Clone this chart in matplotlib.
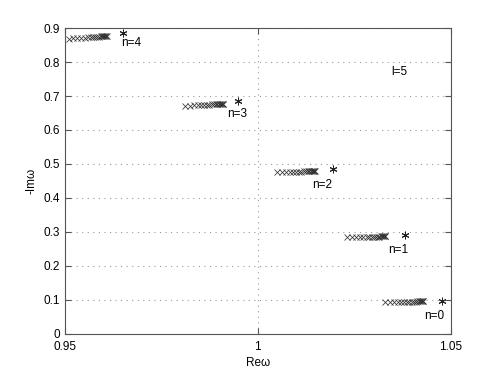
import matplotlib
matplotlib.use("Agg")
import matplotlib.pyplot as plt

plt.rcParams['font.family'] = ['Liberation Sans', 'DejaVu Sans']

# crosses (numerical frequencies) per overtone n
re_n0 = [1.0330, 1.0342, 1.0353, 1.0363, 1.0372, 1.0380, 1.0387, 1.0393, 1.0399, 1.0404,
         1.0409, 1.0413, 1.0417, 1.0420, 1.0423, 1.0425, 1.0427, 1.0429]
im_n0 = [0.0935, 0.0937, 0.0939, 0.0941, 0.0942, 0.0944, 0.0945, 0.0946, 0.0947, 0.0948,
         0.0949, 0.0950, 0.0951, 0.0951, 0.0952, 0.0952, 0.0953, 0.0953]
re_n1 = [1.0232, 1.0244, 1.0255, 1.0265, 1.0274, 1.0282, 1.0289, 1.0295, 1.0301, 1.0306,
         1.0311, 1.0315, 1.0319, 1.0322, 1.0325, 1.0327, 1.0329, 1.0331]
im_n1 = [0.2840, 0.2843, 0.2846, 0.2849, 0.2851, 0.2853, 0.2855, 0.2857, 0.2859, 0.2860,
         0.2862, 0.2863, 0.2864, 0.2865, 0.2866, 0.2867, 0.2868, 0.2868]
re_n2 = [1.0050, 1.0062, 1.0073, 1.0083, 1.0092, 1.0100, 1.0107, 1.0113, 1.0119, 1.0124,
         1.0129, 1.0133, 1.0137, 1.0140, 1.0143, 1.0145, 1.0147, 1.0149]
im_n2 = [0.4750, 0.4755, 0.4759, 0.4763, 0.4767, 0.4770, 0.4773, 0.4776, 0.4778, 0.4780,
         0.4782, 0.4784, 0.4786, 0.4787, 0.4788, 0.4789, 0.4790, 0.4791]
re_n3 = [0.9812, 0.9824, 0.9835, 0.9845, 0.9854, 0.9862, 0.9869, 0.9875, 0.9881, 0.9886,
         0.9891, 0.9895, 0.9899, 0.9902, 0.9905, 0.9907, 0.9909, 0.9911]
im_n3 = [0.6710, 0.6717, 0.6723, 0.6729, 0.6735, 0.6740, 0.6745, 0.6749, 0.6753, 0.6757,
         0.6760, 0.6763, 0.6766, 0.6768, 0.6770, 0.6772, 0.6774, 0.6775]
re_n4 = [0.9510, 0.9522, 0.9533, 0.9543, 0.9552, 0.9560, 0.9567, 0.9573, 0.9579, 0.9584,
         0.9589, 0.9593, 0.9597, 0.9600, 0.9603, 0.9605, 0.9607, 0.9609]
im_n4 = [0.8690, 0.8698, 0.8706, 0.8713, 0.8720, 0.8726, 0.8732, 0.8737, 0.8742, 0.8747,
         0.8751, 0.8755, 0.8758, 0.8761, 0.8764, 0.8766, 0.8768, 0.8770]

# asterisks (reference values)
star_re = [1.0478, 1.0381, 1.0195, 0.9948, 0.9651]
star_im = [0.0960, 0.2900, 0.4860, 0.6850, 0.8870]

labels = ['n=0', 'n=1', 'n=2', 'n=3', 'n=4']
label_re = [1.0432, 1.0337, 1.0142, 0.9922, 0.9645]
label_im = [0.053, 0.247, 0.438, 0.647, 0.857]

fig = plt.figure(figsize=(4.98, 3.75), dpi=100)
ax = fig.add_axes([0.13, 0.11, 0.775, 0.815])

for re, im in [(re_n0, im_n0), (re_n1, im_n1), (re_n2, im_n2), (re_n3, im_n3), (re_n4, im_n4)]:
    ax.plot(re, im, linestyle='none', marker='x', markersize=3.8, markeredgewidth=0.55, color='#333333')

ax.plot(star_re, star_im, linestyle='none', marker=(6, 2, 0), markersize=5.5,
        markeredgewidth=0.7, color='#222222')

for t, x, y in zip(labels, label_re, label_im):
    ax.text(x, y, t, fontsize=8.5, ha='left', va='center')

ax.text(1.0345, 0.77, 'l=5', fontsize=8.5, ha='left', va='center')

ax.set_xlim(0.95, 1.05)
ax.set_ylim(0, 0.9)
ax.set_xticks([0.95, 1.0, 1.05])
ax.set_xticklabels(['0.95', '1', '1.05'])
ax.set_yticks([0, 0.1, 0.2, 0.3, 0.4, 0.5, 0.6, 0.7, 0.8, 0.9])
ax.set_yticklabels(['0', '0.1', '0.2', '0.3', '0.4', '0.5', '0.6', '0.7', '0.8', '0.9'])
ax.grid(True, linestyle=(0, (1, 4)), color='#999999', linewidth=0.8)
ax.tick_params(direction='in', length=4, labelsize=8.5, color='#555555', top=True, right=True,
               labeltop=False, labelright=False)
ax.tick_params(axis='x', pad=5)
for s in ax.spines.values():
    s.set_color('#555555')
    s.set_linewidth(0.8)

ax.set_xlabel('Reω', fontsize=8.5, labelpad=3)
ax.set_ylabel('-Imω', fontsize=8.5, labelpad=4)

fig.savefig('out.png', dpi=100)
